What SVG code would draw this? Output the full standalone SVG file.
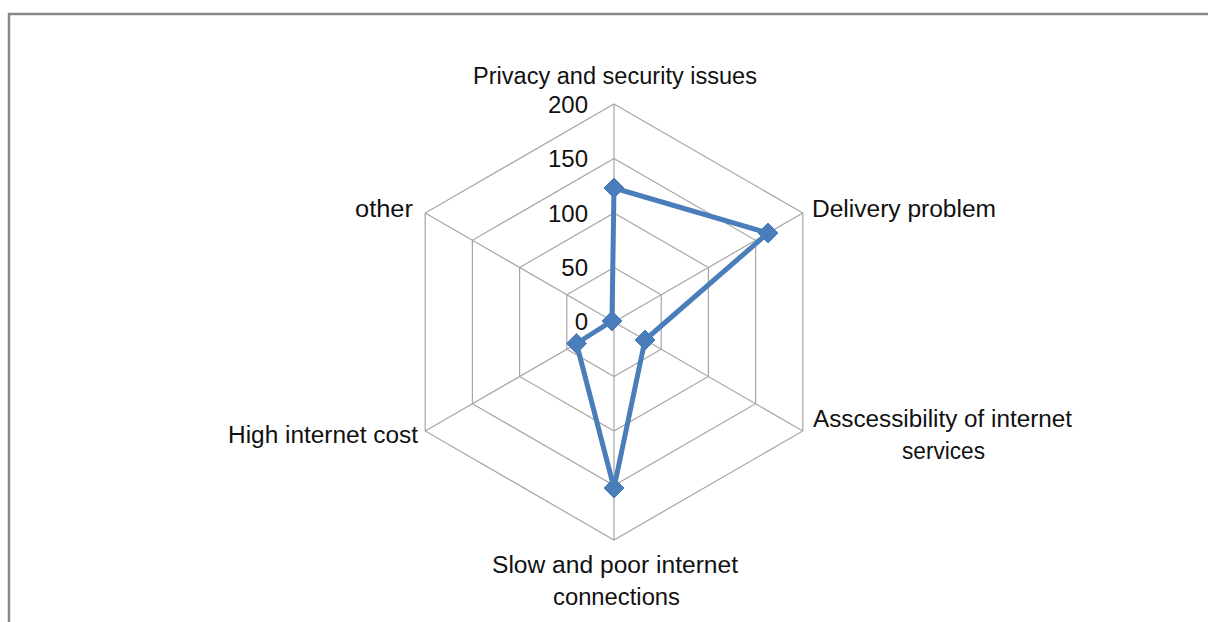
<svg xmlns="http://www.w3.org/2000/svg" width="1208" height="622" viewBox="0 0 1208 622">
  <style>
    .grid { fill: none; stroke: #A6A6A6; stroke-width: 1.2; }
    .frame { fill: none; stroke: #888888; stroke-width: 2.5; }
    .lbl { font-family: "Liberation Sans", Arial, sans-serif; font-size: 23.5px; fill: #111111; }
    .num { font-family: "Liberation Sans", Arial, sans-serif; font-size: 24px; fill: #111111; text-anchor: end; }
    .series { fill: none; stroke: #4A7EBB; stroke-width: 5; stroke-linejoin: round; }
    .mk { fill: #4A7EBB; stroke: #4A7EBB; stroke-width: 1; }
  </style>
  <defs>
    <path id="diamond" d="M0,-10 L10,0 L0,10 L-10,0 Z"/>
  </defs>
  <rect x="0" y="0" width="1208" height="622" fill="#FFFFFF"/>
  <g id="frame">
    <polyline class="frame" points="9,622 9,14 1208,14"/>
  </g>
  <g id="grid">
    <polygon class="grid" points="614,267.5 661.2,294.75 661.2,349.25 614,376.5 566.8,349.25 566.8,294.75"/>
    <polygon class="grid" points="614,213 708.4,267.5 708.4,376.5 614,431 519.6,376.5 519.6,267.5"/>
    <polygon class="grid" points="614,158.5 755.6,240.25 755.6,403.75 614,485.5 472.4,403.75 472.4,240.25"/>
    <polygon class="grid" points="614,104 802.8,213 802.8,431 614,540 425.2,431 425.2,213"/>
    <path class="grid" d="M614,322 L614,104 M614,322 L802.8,213 M614,322 L802.8,431 M614,322 L614,540 M614,322 L425.2,431 M614,322 L425.2,213"/>
  </g>
  <g id="axis-values">
    <text class="num" x="588" y="113">200</text>
    <text class="num" x="588" y="167">150</text>
    <text class="num" x="588" y="222">100</text>
    <text class="num" x="588" y="276">50</text>
    <text class="num" x="588" y="330">0</text>
  </g>
  <g id="connectors">
    <polygon class="series" points="614,188 768,233 645,340 614,488 576.5,343.5 612,321"/>
  </g>
  <g id="node-privacy">
    <use href="#diamond" class="mk" x="614" y="188"/>
    <text class="lbl" x="615" y="84" text-anchor="middle" textLength="284" lengthAdjust="spacingAndGlyphs">Privacy and security issues</text>
  </g>
  <g id="node-delivery">
    <use href="#diamond" class="mk" x="768" y="233"/>
    <text class="lbl" x="812" y="217" textLength="184" lengthAdjust="spacingAndGlyphs">Delivery problem</text>
  </g>
  <g id="node-accessibility">
    <use href="#diamond" class="mk" x="645" y="340"/>
    <text class="lbl" x="813" y="427" textLength="259" lengthAdjust="spacingAndGlyphs">Asscessibility of internet</text>
    <text class="lbl" x="943.5" y="459" text-anchor="middle" textLength="83" lengthAdjust="spacingAndGlyphs">services</text>
  </g>
  <g id="node-slow">
    <use href="#diamond" class="mk" x="614" y="488"/>
    <text class="lbl" x="615" y="573" text-anchor="middle" textLength="246" lengthAdjust="spacingAndGlyphs">Slow and poor internet</text>
    <text class="lbl" x="616.5" y="605" text-anchor="middle" textLength="127" lengthAdjust="spacingAndGlyphs">connections</text>
  </g>
  <g id="node-high-cost">
    <use href="#diamond" class="mk" x="576.5" y="343.5"/>
    <text class="lbl" x="228" y="443" textLength="190" lengthAdjust="spacingAndGlyphs">High internet cost</text>
  </g>
  <g id="node-other">
    <use href="#diamond" class="mk" x="612" y="321"/>
    <text class="lbl" x="355" y="217" textLength="58" lengthAdjust="spacingAndGlyphs">other</text>
  </g>
</svg>
